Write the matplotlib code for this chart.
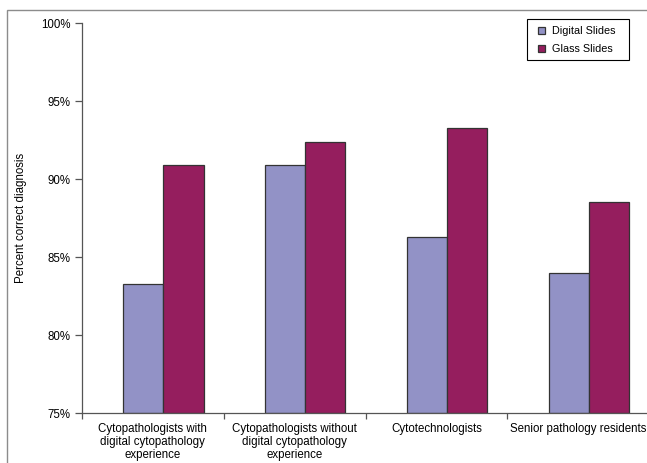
import matplotlib
matplotlib.use("Agg")
import matplotlib.pyplot as plt
import numpy as np
from matplotlib.patches import Rectangle

categories = ["Cytopathologists with\ndigital cytopathology\nexperience",
              "Cytopathologists without\ndigital cytopathology\nexperience",
              "Cytotechnologists",
              "Senior pathology residents"]
digital = [83.3, 90.9, 86.3, 84.0]
glass = [90.9, 92.4, 93.3, 88.5]
series_names = ["Digital Slides", "Glass Slides"]
yticks = [75, 80, 85, 90, 95, 100]

plt.rcParams['font.family'] = ['Liberation Sans', 'DejaVu Sans']

fig = plt.figure(figsize=(6.47, 4.63), dpi=100)
W, H = 647, 463
# outer chart border
fig.patches.append(Rectangle((7 / W, -0.1), 1.2, 1 - 10 / H + 0.1, transform=fig.transFigure,
                             fill=False, edgecolor='#8c8c8c', linewidth=1.0))
# legend frame
fig.patches.append(Rectangle((527 / W, 1 - 60 / H), 102 / W, 41 / H, transform=fig.transFigure,
                             fill=False, edgecolor='black', linewidth=0.8, zorder=5))

ax = fig.add_axes([82 / W, 1 - 413 / H, 567 / W, 390 / H])
x = np.arange(len(categories))
bw = 0.283
ax.bar(x - 0.067, [d - 75 for d in digital], bw, bottom=75, color='#9292C6',
       edgecolor='#333333', linewidth=0.9, label=series_names[0])
ax.bar(x + 0.216, [g - 75 for g in glass], bw, bottom=75, color='#951E5E',
       edgecolor='#333333', linewidth=0.9, label=series_names[1])

ax.set_xlim(-0.5, len(categories) - 0.5)
ax.set_ylim(75, 100)
ax.set_yticks(yticks)
ax.set_yticklabels([f"{t}%" for t in yticks], fontsize=8.3)
ax.set_xticks(x)
ax.set_xticklabels(categories, fontsize=8.3, linespacing=1.15)
ax.set_xticks(np.arange(len(categories) + 1) - 0.5, minor=True)
ax.tick_params(axis='x', which='major', length=0, pad=7)
ax.tick_params(axis='x', which='minor', length=4, width=0.9, color='#555555')
ax.tick_params(axis='y', length=5, width=0.9, color='#555555', pad=3)
for s in ['top', 'right']:
    ax.spines[s].set_visible(False)
for s in ['left', 'bottom']:
    ax.spines[s].set_color('#555555')
    ax.spines[s].set_linewidth(0.9)
ax.set_ylabel("Percent correct diagnosis", fontsize=8.3, labelpad=10)

leg = ax.legend(loc='upper left', bbox_to_anchor=(538 / W, 1 - 26 / H), bbox_transform=fig.transFigure,
                fontsize=7.8, frameon=False, borderpad=0,
                handlelength=0.6, handleheight=0.6, handletextpad=0.7, labelspacing=0.75,
                borderaxespad=0)

fig.savefig("out.png", dpi=100)
